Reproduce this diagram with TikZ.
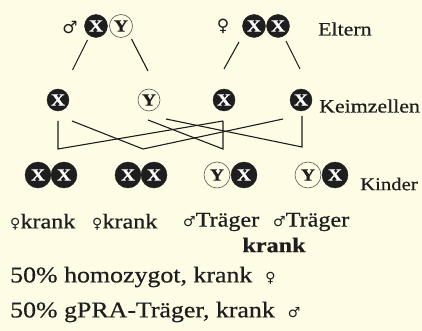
\documentclass[tikz,border=0pt]{standalone}
\usepackage{fontspec}
\setmainfont{Liberation Serif}[FakeStretch=1.15,FakeBold=0.6]
\newfontfamily\symf{DejaVu Sans}
\usetikzlibrary{calc}
\definecolor{bg}{RGB}{254,252,229}
\definecolor{ink}{RGB}{30,30,30}
\begin{document}
\begin{tikzpicture}[x=1pt,y=-1pt,
  xc/.style={circle,fill=ink,draw=ink,minimum size=#1,inner sep=0pt,text=white,
    font=\fontsize{17}{17}\selectfont\bfseries},
  xc/.default=23pt,
  yc/.style={circle,fill=bg,draw=black!65,line width=0.6pt,minimum size=#1,inner sep=0pt,text=ink,
    font=\fontsize{17}{17}\selectfont\bfseries},
  yc/.default=23pt,
  lab/.style={anchor=west,inner sep=0pt,text=ink,font=\fontsize{19}{22}\selectfont},
  clab/.style={anchor=west,inner sep=0pt,text=ink,font=\fontsize{21}{24}\selectfont},
  blab/.style={anchor=west,inner sep=0pt,text=ink,font=\fontsize{22.5}{26}\selectfont},
  symb/.style={inner sep=0pt,text=ink,font=\symf\fontsize{17}{17}\selectfont},
  ln/.style={line width=1.1pt,draw=ink}]
\fill[bg] (0,0) rectangle (422,331);
\useasboundingbox (0,0) rectangle (422,331);

% parents
\node[symb] (ms) at (70,28) {♂};
\node[xc] (fX) at (96,26) {X};
\node[yc] (fY) at (121,26) {Y};
\node[symb] (fs) at (223,26) {♀};
\node[xc] (mX1) at (254,26) {X};
\node[xc] (mX2) at (278,26) {X};
\node[lab] (eltern) at (318,29) {Eltern};

% gametes
\node[xc=22pt] (gX1) at (58,100) {X};
\node[yc=22pt] (gY) at (149,100) {Y};
\node[xc=22pt] (gX2) at (224,100) {X};
\node[xc=22pt] (gX3) at (301,100) {X};
\node[lab] (keim) at (319,106) {Keimzellen};

% parent -> gamete
\draw[ln] ($(fX)+(-8.5,14)$) -- ($(gX1)+(14.5,-30)$);
\draw[ln] ($(fY)+(10.5,13)$) -- ($(gY)+(-1,-29)$);
\draw[ln] ($(mX1)+(-15,16)$) -- ($(gX2)+(0,-31)$);
\draw[ln] ($(mX2)+(8,15)$) -- ($(gX3)+(-1,-31)$);

% crossing network
\coordinate (b1) at (58,149);
\coordinate (b2) at (143,149);
\coordinate (b3) at (223,149);
\coordinate (b4) at (302,147);
\draw[ln] ($(gX1)+(0,21)$) -- (b1) -- ($(gX2)+(-1,21)$);
\draw[ln] ($(gX1)+(14,21)$) -- (b2) -- ($(gX3)+(-18,19)$);
\draw[ln] ($(gY)+(-1,20)$) -- (b3) -- ($(gX2)+(-1,21)$);
\draw[ln] ($(gY)+(17,19)$) -- (b4) -- ($(gX3)+(1,16)$);

% children
\node[xc=26pt] (c1a) at (38,175) {X};
\node[xc=26pt] (c1b) at (64,175) {X};
\node[xc=26pt] (c2a) at (128,175) {X};
\node[xc=26pt] (c2b) at (154,175) {X};
\node[yc=26pt] (c3a) at (217,175) {Y};
\node[xc=26pt] (c3b) at (244,175) {X};
\node[yc=26pt] (c4a) at (308,175) {Y};
\node[xc=26pt] (c4b) at (335,175) {X};
\node[lab,font=\fontsize{18}{22}\selectfont] (kinder) at (360,184) {Kinder};

\node[clab] (l1) at (10,222) {{\symf\fontsize{14}{14}\selectfont ♀}krank};
\node[clab] (l2) at (92,222) {{\symf\fontsize{14}{14}\selectfont ♀}krank};
\node[clab] (l3) at (183,222) {{\symf\fontsize{14}{14}\selectfont ♂}Träger};
\node[clab] (l4) at (273,222) {{\symf\fontsize{14}{14}\selectfont ♂}Träger};
\node[clab,anchor=center,font=\fontsize{21}{24}\selectfont\bfseries] (l5) at (274,245) {krank};

\node[blab] (t1) at (10,277) {50\% homozygot, krank \ {\symf\fontsize{14}{14}\selectfont ♀}};
\node[blab] (t2) at (10,312) {50\% gPRA-Träger, krank \ {\symf\fontsize{14}{14}\selectfont ♂}};
\end{tikzpicture}
\end{document}
